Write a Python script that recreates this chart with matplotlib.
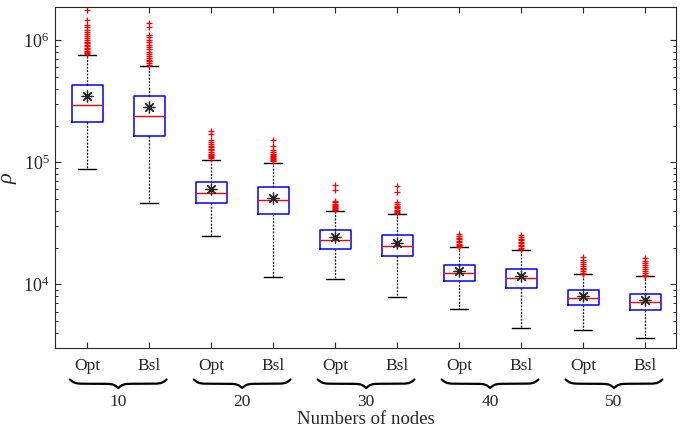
import numpy as np
import matplotlib
matplotlib.use("Agg")
import matplotlib.pyplot as plt
from matplotlib.transforms import blended_transform_factory
from matplotlib.ticker import NullFormatter, LogLocator

plt.rcParams['font.family'] = ['Liberation Serif', 'DejaVu Serif']
plt.rcParams['mathtext.fontset'] = 'custom'
plt.rcParams['mathtext.rm'] = 'Liberation Serif'
plt.rcParams['mathtext.it'] = 'Liberation Serif:italic'

# ---------------- data ----------------
categories = ['Opt', 'Bsl', 'Opt', 'Bsl', 'Opt', 'Bsl', 'Opt', 'Bsl', 'Opt', 'Bsl']
groups = ['10', '20', '30', '40', '50']
xlabel = 'Numbers of nodes'
ylabel = r'$\rho$'

medians = [2.97e5, 2.41e5, 5.65e4, 4.88e4, 2.32e4, 2.08e4, 1.25e4, 1.13e4, 7.78e3, 7.16e3]
means   = [3.48e5, 2.84e5, 6.01e4, 5.14e4, 2.44e4, 2.20e4, 1.28e4, 1.17e4, 7.97e3, 7.39e3]
q1      = [2.14e5, 1.64e5, 4.61e4, 3.75e4, 1.95e4, 1.70e4, 1.07e4, 9.40e3, 6.73e3, 6.15e3]
q3      = [4.28e5, 3.46e5, 6.90e4, 6.28e4, 2.77e4, 2.55e4, 1.45e4, 1.35e4, 8.93e3, 8.39e3]
whislo  = [8.88e4, 4.61e4, 2.47e4, 1.16e4, 1.10e4, 7.93e3, 6.32e3, 4.42e3, 4.22e3, 3.63e3]
whishi  = [7.54e5, 6.16e5, 1.04e5, 9.95e4, 4.02e4, 3.80e4, 2.01e4, 1.92e4, 1.21e4, 1.17e4]

out1 = [1.76e6, 1.46e6, 1.33e6, 1.28e6, 1.22e6, 1.17e6, 1.12e6, 1.08e6, 1.04e6, 1.0e6,
        9.7e5, 9.4e5, 9.1e5, 8.9e5, 8.6e5, 8.4e5, 8.2e5, 8.0e5, 7.85e5, 7.7e5]
out2 = [1.39e6, 1.28e6, 1.11e6, 1.06e6, 1.0e6, 9.6e5, 9.2e5, 8.8e5, 8.4e5, 8.0e5,
        7.7e5, 7.4e5, 7.1e5, 6.9e5, 6.7e5, 6.5e5, 6.3e5]
out3 = [1.80e5, 1.72e5, 1.52e5, 1.47e5, 1.42e5, 1.37e5, 1.33e5, 1.29e5, 1.25e5, 1.21e5,
        1.18e5, 1.15e5, 1.12e5, 1.10e5, 1.08e5]
out4 = [1.52e5, 1.36e5, 1.26e5, 1.22e5, 1.18e5, 1.15e5, 1.12e5, 1.10e5, 1.08e5, 1.06e5,
        1.04e5, 1.02e5]
out5 = [6.51e4, 5.92e4, 4.84e4, 4.7e4, 4.6e4, 4.5e4, 4.4e4, 4.3e4, 4.22e4, 4.14e4, 4.08e4]
out6 = [6.43e4, 5.71e4, 4.70e4, 4.55e4, 4.4e4, 4.3e4, 4.2e4, 4.1e4, 4.0e4, 3.92e4, 3.86e4]
out7 = [2.58e4, 2.5e4, 2.42e4, 2.35e4, 2.28e4, 2.22e4, 2.16e4, 2.11e4, 2.06e4, 2.03e4]
out8 = [2.54e4, 2.45e4, 2.37e4, 2.3e4, 2.23e4, 2.17e4, 2.11e4, 2.05e4, 1.99e4, 1.95e4]
out9 = [1.67e4, 1.6e4, 1.54e4, 1.48e4, 1.42e4, 1.37e4, 1.33e4, 1.29e4, 1.25e4, 1.22e4]
out10 = [1.64e4, 1.57e4, 1.5e4, 1.44e4, 1.38e4, 1.33e4, 1.28e4, 1.24e4, 1.20e4, 1.18e4]
outliers = [out1, out2, out3, out4, out5, out6, out7, out8, out9, out10]

# ---------------- figure ----------------
W, H = 694, 437
fig = plt.figure(figsize=(W / 100, H / 100), dpi=100)
ax_l, ax_r, ax_t, ax_b = 55, 676, 7, 348.3
ax = fig.add_axes([ax_l / W, 1 - ax_b / H, (ax_r - ax_l) / W, (ax_b - ax_t) / H])

positions = np.arange(1, len(categories) + 1)
stats = []
for i in range(len(categories)):
    stats.append(dict(med=medians[i], mean=means[i], q1=q1[i], q3=q3[i],
                      whislo=whislo[i], whishi=whishi[i], fliers=outliers[i],
                      label=categories[i]))

axc = '#262626'
ax.bxp(stats, positions=positions, widths=0.5, capwidths=0.29,
       showmeans=True, manage_ticks=False,
       boxprops=dict(color='#0000ff', linewidth=1.1),
       medianprops=dict(color='#ff0000', linewidth=1.0),
       whiskerprops=dict(color='black', linewidth=0.9, linestyle=(0, (1.5, 1.2))),
       capprops=dict(color='black', linewidth=1.0),
       flierprops=dict(marker='+', markeredgecolor='#ff0000', markersize=4.5,
                       markeredgewidth=0.9, linestyle='none'),
       meanprops=dict(marker=(8, 2, 0), markeredgecolor='#262626', markerfacecolor='#262626',
                      markersize=8.5, markeredgewidth=0.9, linestyle='none'))

ax.set_yscale('log')
ax.set_ylim(3000, 1.87e6)
ax.set_xlim(0.48, 10.5)
ax.yaxis.set_major_locator(LogLocator(base=10, numticks=10))
ax.yaxis.set_minor_locator(LogLocator(base=10, subs=np.arange(2, 10), numticks=20))
ax.yaxis.set_minor_formatter(NullFormatter())
ax.set_xticks(positions)
ax.set_xticklabels(categories, fontsize=12.5)
ax.tick_params(axis='x', which='minor', bottom=False, top=False)
ax.tick_params(axis='both', which='both', direction='in', top=True, right=True, colors=axc)
ax.tick_params(axis='both', which='major', length=4.5, width=0.8, labelcolor='#262626')
ax.tick_params(axis='y', which='minor', length=2.5, width=0.7)
ax.tick_params(axis='x', which='major', pad=7)
ax.tick_params(axis='y', which='major', labelsize=13, pad=4)
for s in ax.spines.values():
    s.set_color(axc)
    s.set_linewidth(0.8)

ax.set_ylabel(ylabel, fontsize=16, color='#262626')
ax.yaxis.set_label_coords(-0.058, 0.5)

# braces and group labels
trans = blended_transform_factory(ax.transData, fig.transFigure)
def fy(px):
    return 1 - px / H

for g in range(len(groups)):
    c = 1.5 + 2 * g
    half = 0.78
    u = np.linspace(0, 0.5, 200)
    beta = 40
    yh = 1 / (1 + np.exp(-beta * u)) + 1 / (1 + np.exp(-beta * (u - 0.5)))
    yh = np.concatenate([yh, yh[-2::-1]])
    xx = c - half + np.concatenate([u, 1 - u[-2::-1]]) * 2 * half
    depth = (yh - 0.5) * 8.5
    ypx = 379.5 + depth
    ax.plot(xx, fy(ypx), transform=trans, color='black', linewidth=1.6,
            clip_on=False, solid_capstyle='round')
    fig.text(c, fy(406.5), groups[g], transform=trans, ha='center', va='baseline',
             fontsize=12.5, color='#262626')

fig.text((ax_l + ax_r) / 2 / W, fy(424.5), xlabel, ha='center', va='baseline',
         fontsize=13.5, color='#262626')

fig.savefig('out.png', dpi=100)
